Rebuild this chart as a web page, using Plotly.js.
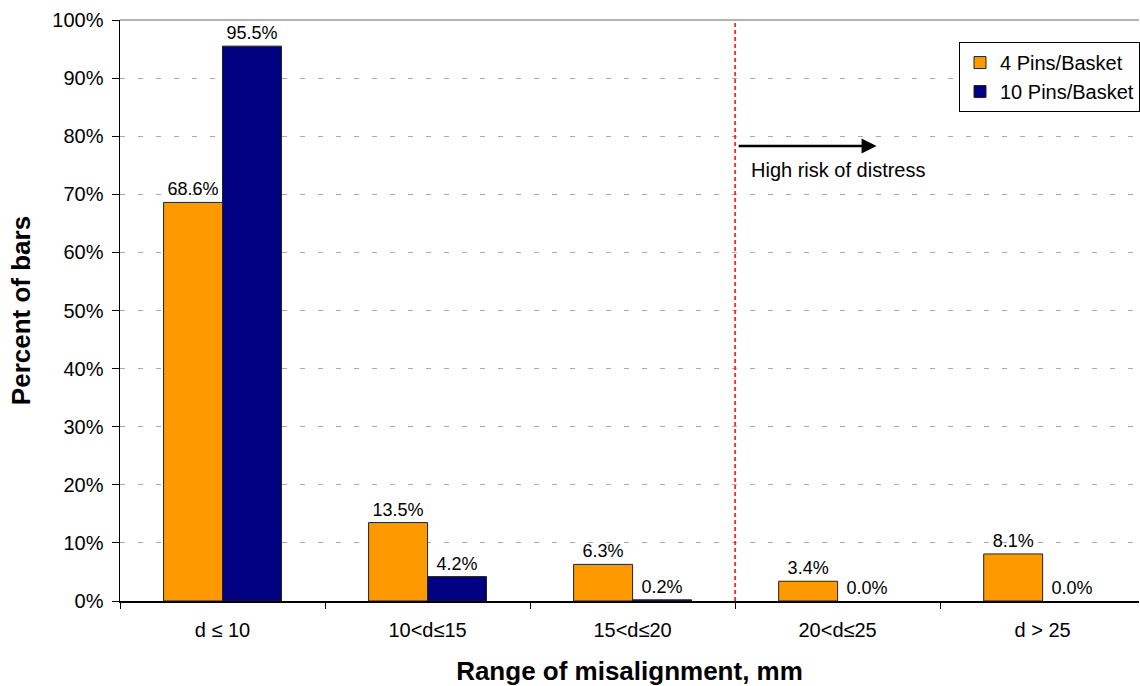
<!DOCTYPE html>
<html>
<head>
<meta charset="utf-8">
<script src="https://cdn.plot.ly/plotly-3.0.1.min.js"></script>
<style>html,body{margin:0;padding:0;background:#fff;}#chart{width:1140px;height:686px;}</style>
</head>
<body>
<div id="chart"></div>
<script>
const categories = ["d ≤ 10", "10<d≤15", "15<d≤20", "20<d≤25", "d > 25"];
const pins4 = [0.686, 0.135, 0.063, 0.034, 0.081];
const pins10 = [0.955, 0.042, 0.002, 0.000, 0.000];
const seriesNames = ["4 Pins/Basket", "10 Pins/Basket"];
const riskLabel = "High risk of distress";

const font = "Liberation Sans, Arial, sans-serif";

const traces = [
  {type: "bar", name: seriesNames[0], x: categories, y: pins4,
   marker: {color: "#FF9900", line: {color: "#222", width: pins4.map(v => v > 0 ? 1 : 0)}},
   text: pins4.map(v => (v*100).toFixed(1) + "%"), textposition: "outside",
   textfont: {family: font, size: 18, color: "#000"}, cliponaxis: false},
  {type: "bar", name: seriesNames[1], x: categories, y: pins10,
   marker: {color: "#000080", line: {color: "#222", width: pins10.map(v => v > 0 ? 1 : 0)}},
   text: pins10.map(v => (v*100).toFixed(1) + "%"), textposition: "outside",
   textfont: {family: font, size: 18, color: "#000"}, cliponaxis: false}
];

const layout = {
  width: 1140, height: 686,
  margin: {l: 120, r: 0, t: 20, b: 85},
  paper_bgcolor: "#fff", plot_bgcolor: "#fff",
  font: {family: font, color: "#000"},
  barmode: "group", bargap: 0.425, bargroupgap: 0,
  showlegend: true,
  legend: {x: 0.8235, y: 0.962, xanchor: "left", yanchor: "top",
           bordercolor: "#000", borderwidth: 1, bgcolor: "#fff",
           font: {family: font, size: 20}, tracegroupgap: 0, traceorder: "normal"},
  xaxis: {type: "category", range: [-0.5, 4.47], tickson: "boundaries",
          ticks: "outside", ticklen: 6, tickcolor: "#000", ticklabelstandoff: 10,
          showline: true, linecolor: "#000", linewidth: 1.5,
          tickfont: {family: font, size: 20}, showgrid: false,
          title: {text: "Range of misalignment, mm", font: {family: font, size: 26, weight: "bold"}, standoff: 24}},
  yaxis: {range: [0, 1], dtick: 0.1, tickformat: ".0%",
          ticks: "outside", ticklen: 7, tickcolor: "#000", ticklabelstandoff: 4,
          showline: true, linecolor: "#000", linewidth: 1.5,
          showgrid: true, gridcolor: "#aaa", griddash: "5px,13px", zeroline: false,
          tickfont: {family: font, size: 20},
          title: {text: "Percent of bars", font: {family: font, size: 26, weight: "bold"}, standoff: 14}},
  shapes: [
    {type: "line", xref: "x", yref: "paper", x0: 2.5, x1: 2.5, y0: 0, y1: 1,
     line: {color: "#FF0000", width: 1.5, dash: "4px,3px"}},
    {type: "line", xref: "paper", yref: "paper", x0: 0, x1: 1, y0: 1, y1: 1,
     line: {color: "#999", width: 1.5}}
  ],
  annotations: [
    {xref: "x", yref: "y", axref: "x", ayref: "y", x: 3.19, y: 0.783, ax: 2.51, ay: 0.783,
     text: "", showarrow: true, arrowhead: 2, arrowsize: 1.2, arrowwidth: 2.5, arrowcolor: "#000"},
    {xref: "x", yref: "y", x: 2.57, y: 0.742, xanchor: "left", yanchor: "middle",
     text: riskLabel, showarrow: false, font: {family: font, size: 20, color: "#000"}}
  ]
};

Plotly.newPlot("chart", traces, layout, {displayModeBar: false, staticPlot: true});
</script>
</body>
</html>
